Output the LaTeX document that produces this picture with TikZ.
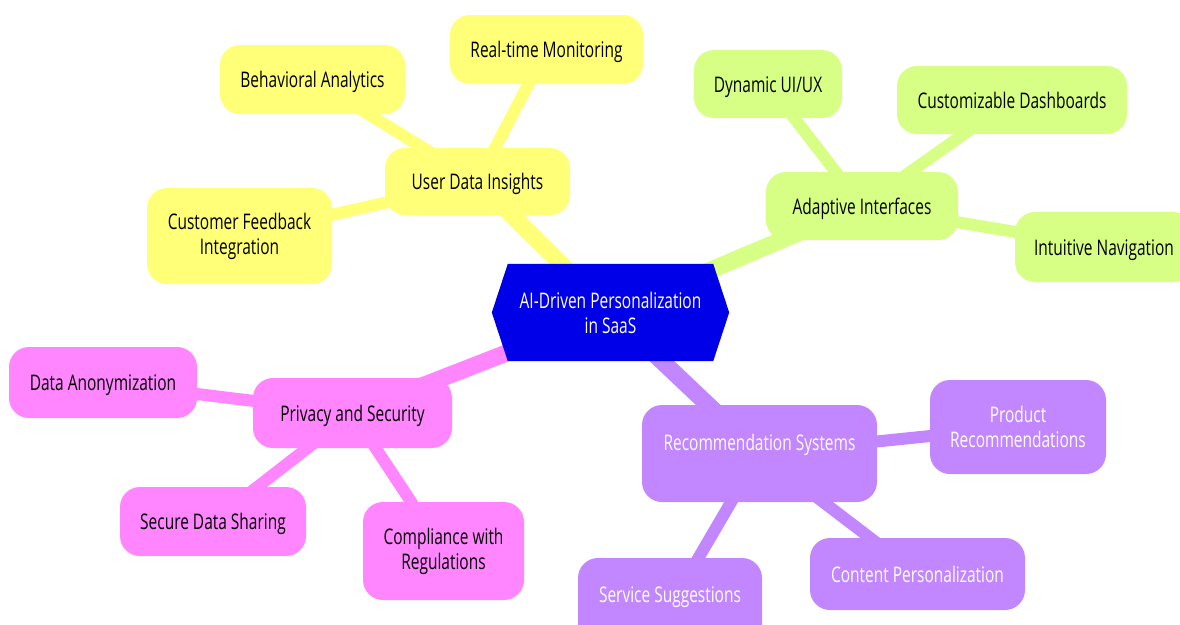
\documentclass[tikz,border=0pt]{standalone}
\usepackage{fontspec}
\setmainfont{Open Sans}[FakeStretch=0.72]
\usetikzlibrary{backgrounds}
\definecolor{rootblue}{HTML}{0000E8}
\definecolor{yel}{HTML}{FFFF78}
\definecolor{lime}{HTML}{D7FF86}
\definecolor{pinkish}{HTML}{FF86FF}
\definecolor{violet}{HTML}{C286FF}

\begin{document}
\begin{tikzpicture}[x=1pt, y=-1pt,
    every node/.style={font=\fontsize{21.5}{25}\selectfont},
    box/.style={rounded corners=20pt, align=center, inner sep=0pt},
    ybox/.style={box, fill=yel},
    gbox/.style={box, fill=lime},
    pbox/.style={box, fill=pinkish},
    vbox/.style={box, fill=violet, text=white},
    single/.style={text height=16pt, text depth=0pt},
    deep/.style={text depth=23pt},
    trunk/.style={line width=17pt},
    twig/.style={line width=12pt}]

    \useasboundingbox (0,0) rectangle (1180,624);

    % Root
    \node[text=white, align=center, minimum width=237pt, minimum height=97pt, inner sep=0pt] (root) at (610.5,312.5) {AI-Driven Personalization\\in SaaS};

    % User data branch
    \node[ybox, single, minimum width=185pt, minimum height=67pt] (udi) at (477.5,181.5) {User Data Insights};
    \node[ybox, single, minimum width=185pt, minimum height=69pt] (beh) at (312.5,79.5) {Behavioral Analytics};
    \node[ybox, single, minimum width=193pt, minimum height=69pt] (rtm) at (546.5,49.5) {Real-time Monitoring};
    \node[ybox, minimum width=185pt, minimum height=96pt] (cfi) at (239.5,236) {Customer Feedback\\Integration};

    % Interface branch
    \node[gbox, single, minimum width=192pt, minimum height=68pt] (adi) at (862,206) {Adaptive Interfaces};
    \node[gbox, single, minimum width=148pt, minimum height=68pt] (dyn) at (768,84) {Dynamic UI/UX};
    \node[gbox, single, minimum width=230pt, minimum height=68pt] (cus) at (1012,100) {Customizable Dashboards};
    \node[gbox, single, minimum width=178pt, minimum height=70pt] (nav) at (1104,247) {Intuitive Navigation};

    % Privacy branch
    \node[pbox, single, minimum width=199pt, minimum height=70pt] (pri) at (352.5,413) {Privacy and Security};
    \node[pbox, single, minimum width=188pt, minimum height=71pt] (ano) at (103,382.5) {Data Anonymization};
    \node[pbox, single, minimum width=186pt, minimum height=69pt] (sec) at (213,521.5) {Secure Data Sharing};
    \node[pbox, minimum width=161pt, minimum height=98pt] (com) at (443.5,551) {Compliance with\\Regulations};

    % Recommendation branch
    \node[vbox, deep, minimum width=235pt, minimum height=97pt] (rec) at (759.5,453.5) {Recommendation Systems};
    \node[vbox, minimum width=176pt, minimum height=94pt] (pro) at (1018,427) {Product\\Recommendations};
    \node[vbox, single, minimum width=215pt, minimum height=72pt] (con) at (917.5,574) {Content Personalization};
    \node[vbox, deep, minimum width=184pt, minimum height=97pt] (ser) at (670,606.5) {Service Suggestions};

    % Links
    \begin{scope}[on background layer]
        \draw[trunk, yel] (root.center) -- (udi.center);
        \draw[trunk, lime] (root.center) -- (adi.center);
        \draw[trunk, pinkish] (root.center) -- (pri.center);
        \draw[trunk, violet] (root.center) -- (rec.center);
        \draw[twig, yel] (udi.center) -- (beh.center);
        \draw[twig, yel] (udi.center) -- (rtm.center);
        \draw[twig, yel] (udi.center) -- (cfi.center);
        \draw[twig, lime] (adi.center) -- (dyn.center);
        \draw[twig, lime] (adi.center) -- (cus.center);
        \draw[twig, lime] (adi.center) -- (nav.center);
        \draw[twig, pinkish] (pri.center) -- (ano.center);
        \draw[twig, pinkish] (pri.center) -- (sec.center);
        \draw[twig, pinkish] (pri.center) -- (com.center);
        \draw[twig, violet] (rec.center) -- (pro.center);
        \draw[twig, violet] (rec.center) -- (con.center);
        \draw[twig, violet] (rec.center) -- (ser.center);
        % hexagon for the root
        \fill[rootblue] (root.west) -- ([xshift=16pt]root.north west) -- ([xshift=-16pt]root.north east)
            -- (root.east) -- ([xshift=-16pt]root.south east) -- ([xshift=16pt]root.south west) -- cycle;
    \end{scope}
\end{tikzpicture}
\end{document}
